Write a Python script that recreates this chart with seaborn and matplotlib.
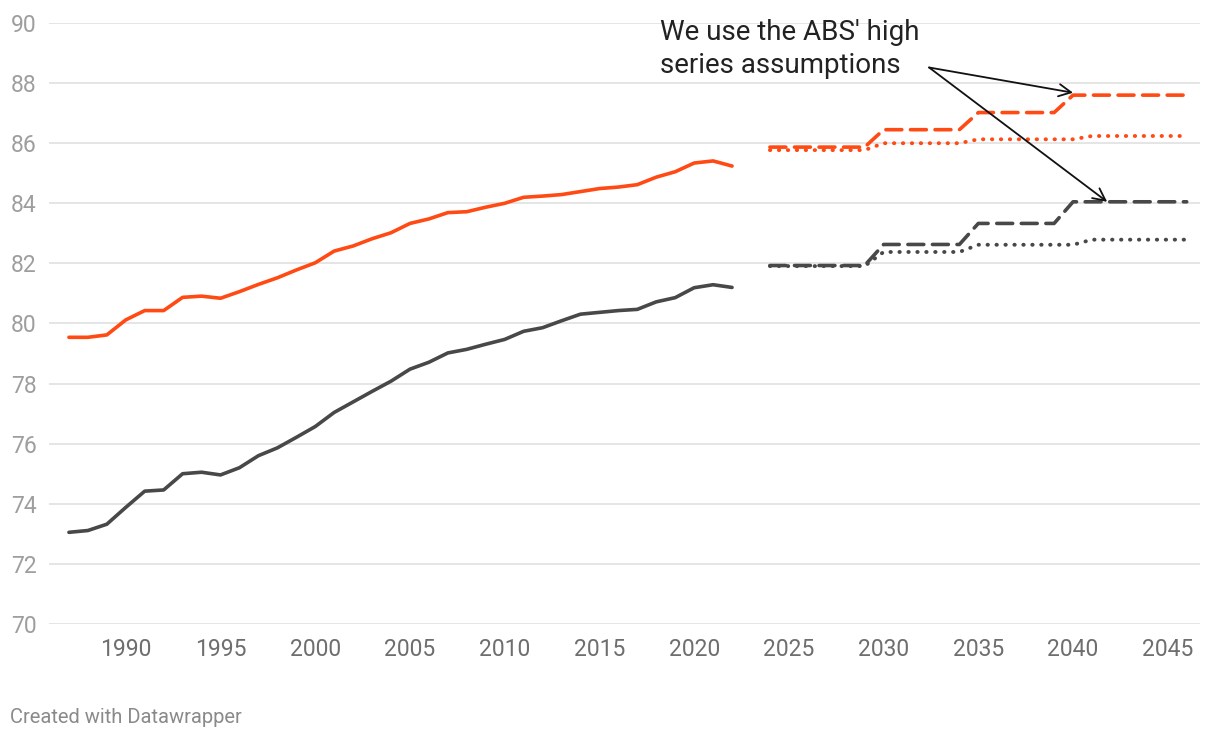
import numpy as np
import pandas as pd
import matplotlib.pyplot as plt
import seaborn as sns

# history 1987-2022
years = list(range(1987, 2023))
female = [79.54, 79.54, 79.62, 80.12, 80.43, 80.43, 80.87, 80.91, 80.84, 81.06,
          81.30, 81.52, 81.78, 82.02, 82.41, 82.58, 82.82, 83.02, 83.33, 83.48,
          83.69, 83.72, 83.87, 84.00, 84.20, 84.24, 84.29, 84.39, 84.49, 84.54,
          84.62, 84.87, 85.05, 85.34, 85.41, 85.24]
male = [73.05, 73.11, 73.32, 73.88, 74.42, 74.46, 75.00, 75.05, 74.96, 75.20,
        75.60, 75.86, 76.21, 76.57, 77.04, 77.39, 77.74, 78.08, 78.48, 78.71,
        79.02, 79.14, 79.31, 79.47, 79.74, 79.86, 80.09, 80.31, 80.37, 80.43,
        80.47, 80.72, 80.86, 81.19, 81.29, 81.20]

# projections 2024-2046
proj_years = list(range(2024, 2047))
female_high = [85.87] * 6 + [86.45] * 5 + [87.02] * 5 + [87.60] * 7
female_med = [85.77] * 6 + [86.00] * 5 + [86.13] * 6 + [86.24] * 6
male_high = [81.93] * 6 + [82.63] * 5 + [83.33] * 5 + [84.05] * 7
male_med = [81.91] * 6 + [82.38] * 5 + [82.62] * 6 + [82.79] * 6

x_ticks = list(range(1990, 2046, 5))
y_ticks = list(range(70, 91, 2))

orange = '#ff4a14'
dark = '#484848'

sns.set_theme(style='white')
plt.rcParams['font.family'] = ['Roboto', 'DejaVu Sans']

fig = plt.figure(figsize=(12.2, 7.4), dpi=100)
ax = fig.add_axes([0.0402, 0.1568, 0.9434, 0.8121])

hist = pd.DataFrame({'year': years, 'female': female, 'male': male})
proj = pd.DataFrame({'year': proj_years, 'female_high': female_high,
                     'female_med': female_med, 'male_high': male_high,
                     'male_med': male_med})

sns.lineplot(data=hist, x='year', y='female', color=orange, lw=2.6, ax=ax,
             solid_capstyle='round', solid_joinstyle='round')
sns.lineplot(data=hist, x='year', y='male', color=dark, lw=2.6, ax=ax,
             solid_capstyle='round', solid_joinstyle='round')

# medium series (dotted)
for col, c in [('female_med', orange), ('male_med', dark)]:
    sns.lineplot(data=proj, x='year', y=col, color=c, lw=2.8, ax=ax,
                 linestyle=(0, (0.1, 2.2)), dash_capstyle='round')
# high series (dashed)
for col, c in [('female_high', orange), ('male_high', dark)]:
    sns.lineplot(data=proj, x='year', y=col, color=c, lw=2.6, ax=ax,
                 linestyle=(0, (4.4, 2.4)), dash_capstyle='round')

ax.set_xlim(1985.95, 2046.7)
ax.set_ylim(70, 90)
ax.set_xticks(x_ticks)
ax.set_yticks(y_ticks)
ax.set_xlabel('')
ax.set_ylabel('')
ax.grid(axis='y', color='#e3e3e3', lw=1.3)
ax.grid(axis='x', visible=False)
ax.set_axisbelow(True)
sns.despine(ax=ax, left=True, bottom=True)
ax.tick_params(axis='y', length=0, pad=9, labelsize=16.5, labelcolor='#9e9e9e')
ax.tick_params(axis='x', length=0, pad=10, labelsize=16.5, labelcolor='#6e6e6e')

# annotation
ax.annotate("We use the ABS' high\nseries assumptions", xy=(2040.0, 87.68),
            xytext=(2018.2, 90.12), ha='left', va='top', fontsize=20,
            color='#222222', linespacing=1.25, annotation_clip=False)
ax.annotate('', xy=(2040.0, 87.68), xytext=(2032.4, 88.52),
            arrowprops=dict(arrowstyle='->', color='#111111', lw=1.3,
                            mutation_scale=22, shrinkA=0, shrinkB=0),
            annotation_clip=False)
ax.annotate('', xy=(2041.8, 84.05), xytext=(2032.4, 88.52),
            arrowprops=dict(arrowstyle='->', color='#111111', lw=1.3,
                            mutation_scale=22, shrinkA=0, shrinkB=0),
            annotation_clip=False)

fig.text(10 / 1220, 1 - 723 / 740, 'Created with Datawrapper', fontsize=14.5,
         color='#8a8a8a', ha='left', va='baseline')

fig.savefig('out.png', dpi=100)
